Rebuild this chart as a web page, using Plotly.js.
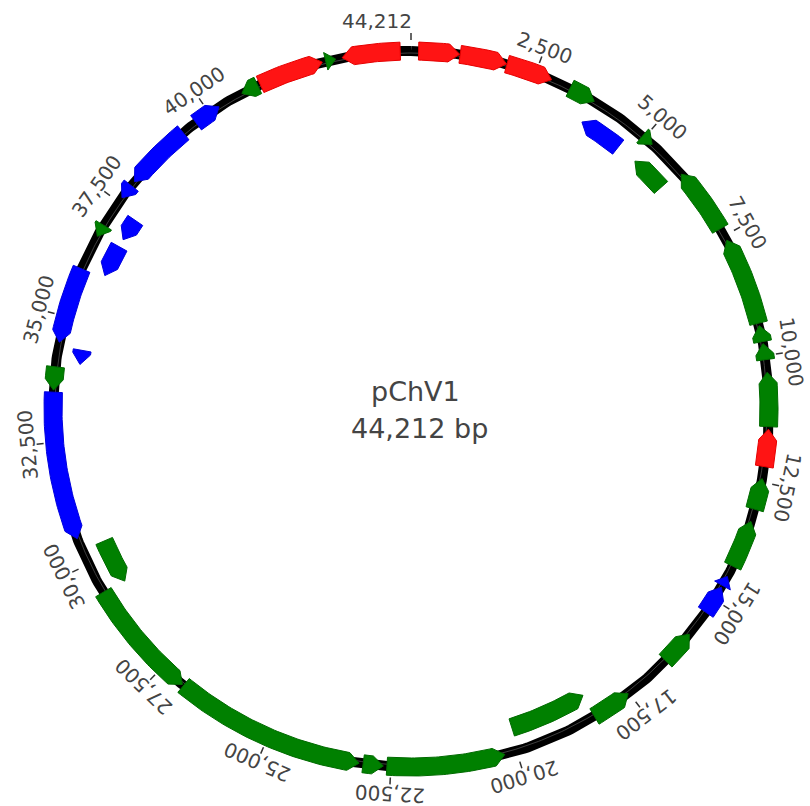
<!DOCTYPE html>
<html><head><meta charset="utf-8">
<script src="https://cdn.plot.ly/plotly-3.0.1.min.js"></script>
<style>html,body{margin:0;padding:0;background:#fff}#chart{width:810px;height:806px}</style>
</head><body><div id="chart"></div>
<script>
// ---------- data ----------
const seqName = 'pChV1';
const seqLength = 44212;
const seqLengthLabel = '44,212 bp';

const tickPositions = [0, 2500, 5000, 7500, 10000, 12500, 15000, 17500, 20000, 22500, 25000, 27500, 30000, 32500, 35000, 37500, 40000];
const tickLabels = ['44,212', '2,500', '5,000', '7,500', '10,000', '12,500', '15,000', '17,500', '20,000', '22,500', '25,000', '27,500', '30,000', '32,500', '35,000', '37,500', '40,000'];

const featStart  = [150, 970, 1910, 3240, 4950, 6020, 7600, 9400, 9760, 10330, 11450, 12430, 13300, 14480, 14720, 15840, 17520, 20240, 22650, 23130, 26980, 30550, 33530, 34480, 36700, 37600, 38000, 39680, 40750, 41150, 42520, 42850,
                    3780, 5170, 18300, 29350, 34100, 36050, 36900];
const featEnd    = [960, 1900, 2840, 3780, 5200, 7340, 9350, 9720, 10080, 11400, 12190, 13050, 14250, 14680, 15300, 16540, 18320, 22580, 23050, 26950, 29380, 33490, 33990, 35990, 36950, 37900, 39360, 40230, 41100, 42450, 42720, 44000,
                    4710, 5950, 19950, 30300, 34400, 36730, 37380];
const featStrand = [1, 1, 1, 1, 1, -1, -1, -1, -1, -1, -1, -1, -1, -1, -1, -1, -1, -1, -1, -1, -1, -1, -1, -1, -1, -1, -1, 1, -1, 1, 1, -1,
                    -1, -1, -1, -1, -1, -1, -1];
const featGroup  = ['R', 'R', 'R', 'G', 'G', 'G', 'G', 'G', 'G', 'G', 'R', 'G', 'G', 'B', 'B', 'G', 'G', 'G', 'G', 'G', 'G', 'B', 'G', 'B', 'G', 'B', 'B', 'B', 'G', 'R', 'G', 'R',
                    'B', 'G', 'G', 'G', 'B', 'B', 'B'];
const featTrack  = [0, 0, 0, 0, 0, 0, 0, 0, 0, 0, 0, 0, 0, 0, 0, 0, 0, 0, 0, 0, 0, 0, 0, 0, 0, 0, 0, 0, 0, 0, 0, 0,
                    1, 1, 1, 1, 1, 1, 1];

// ---------- styles / geometry ----------
const W = 810, H = 806, CX = 411, CY = 409;
const TRACK_R = [358, 334];
const HALF = 9;
const HEAD_PX = 11;
const BACKBONE_R = 358;
const TICK_IN = 369, TICK_OUT = 376, LABEL_R = 385;
const groupFill = {R: '#ff1414', G: '#008000', B: '#0000ff'};
const groupLine = {R: '#e60000', G: '#006a00', B: '#0000dd'};
const textColor = '#444444';
const FONT = '"DejaVu Sans", "Open Sans", sans-serif';

function ang(bp) { return bp / seqLength * 2 * Math.PI; }
function pt(bp, r) { const a = ang(bp); return [CX + r * Math.sin(a), CY - r * Math.cos(a)]; }
function arc(b0, b1, r, xs, ys) {
  const n = Math.max(2, Math.ceil(Math.abs(b1 - b0) / seqLength * 720) + 1);
  for (let i = 0; i < n; i++) {
    const b = b0 + (b1 - b0) * i / (n - 1);
    const p = pt(b, r); xs.push(p[0]); ys.push(p[1]);
  }
}
function arrowPoly(s, e, strand, r) {
  const headBp = HEAD_PX / (2 * Math.PI * r) * seqLength;
  const h = Math.min(headBp, e - s);
  const xs = [], ys = [];
  if (strand > 0) {
    const bE = e - h;
    arc(s, bE, r + HALF, xs, ys);
    const t = pt(e, r); xs.push(t[0]); ys.push(t[1]);
    arc(bE, s, r - HALF, xs, ys);
  } else {
    const bS = s + h;
    const t = pt(s, r); xs.push(t[0]); ys.push(t[1]);
    arc(bS, e, r + HALF, xs, ys);
    arc(e, bS, r - HALF, xs, ys);
  }
  xs.push(xs[0]); ys.push(ys[0]);
  return {xs, ys};
}

const traces = [];
// backbone
{
  const xs = [], ys = [];
  arc(0, seqLength, BACKBONE_R, xs, ys);
  traces.push({type: 'scatter', mode: 'lines', x: xs, y: ys, line: {color: '#000', width: 10}, hoverinfo: 'skip'});
  const xs2 = [], ys2 = [];
  arc(0, seqLength, BACKBONE_R - 2, xs2, ys2);
  traces.push({type: 'scatter', mode: 'lines', x: xs2, y: ys2, line: {color: 'rgba(90,90,90,0.7)', width: 1}, hoverinfo: 'skip'});
}
// ticks
{
  const xs = [], ys = [];
  tickPositions.forEach(b => {
    const a = pt(b, TICK_IN), c = pt(b, TICK_OUT);
    xs.push(a[0], c[0], null); ys.push(a[1], c[1], null);
  });
  traces.push({type: 'scatter', mode: 'lines', x: xs, y: ys, line: {color: '#333', width: 1.5}, hoverinfo: 'skip'});
}
// features
for (let i = 0; i < featStart.length; i++) {
  const p = arrowPoly(featStart[i], featEnd[i], featStrand[i], TRACK_R[featTrack[i]]);
  traces.push({type: 'scatter', mode: 'lines', x: p.xs, y: p.ys, fill: 'toself',
    fillcolor: groupFill[featGroup[i]], line: {color: groupLine[featGroup[i]], width: 1}, hoverinfo: 'skip'});
}

const annotations = tickPositions.map((b, i) => {
  const p = pt(b, LABEL_R);
  const isOrigin = (b === 0);
  return {x: isOrigin ? p[0] + 3 : p[0], y: isOrigin ? p[1] - 3 : p[1], xref: 'x', yref: 'y', text: tickLabels[i], showarrow: false,
    textangle: b / seqLength * 360, xanchor: isOrigin ? 'right' : 'center', yanchor: 'middle',
    font: {family: FONT, size: 20, color: textColor}};
});
annotations.push({x: CX + 4, y: 391, xref: 'x', yref: 'y', text: seqName, showarrow: false,
  xanchor: 'center', yanchor: 'middle', font: {family: FONT, size: 27, color: textColor}});
annotations.push({x: CX + 8, y: 428, xref: 'x', yref: 'y', text: seqLengthLabel, showarrow: false,
  xanchor: 'center', yanchor: 'middle', font: {family: FONT, size: 27, color: textColor}});

const layout = {
  width: W, height: H, margin: {l: 0, r: 0, t: 0, b: 0},
  paper_bgcolor: '#fff', plot_bgcolor: '#fff', showlegend: false, hovermode: false,
  xaxis: {range: [0, W], visible: false, fixedrange: true},
  yaxis: {range: [H, 0], visible: false, fixedrange: true},
  annotations
};
Plotly.newPlot('chart', traces, layout, {staticPlot: true, displayModeBar: false});
</script>
</body></html>
